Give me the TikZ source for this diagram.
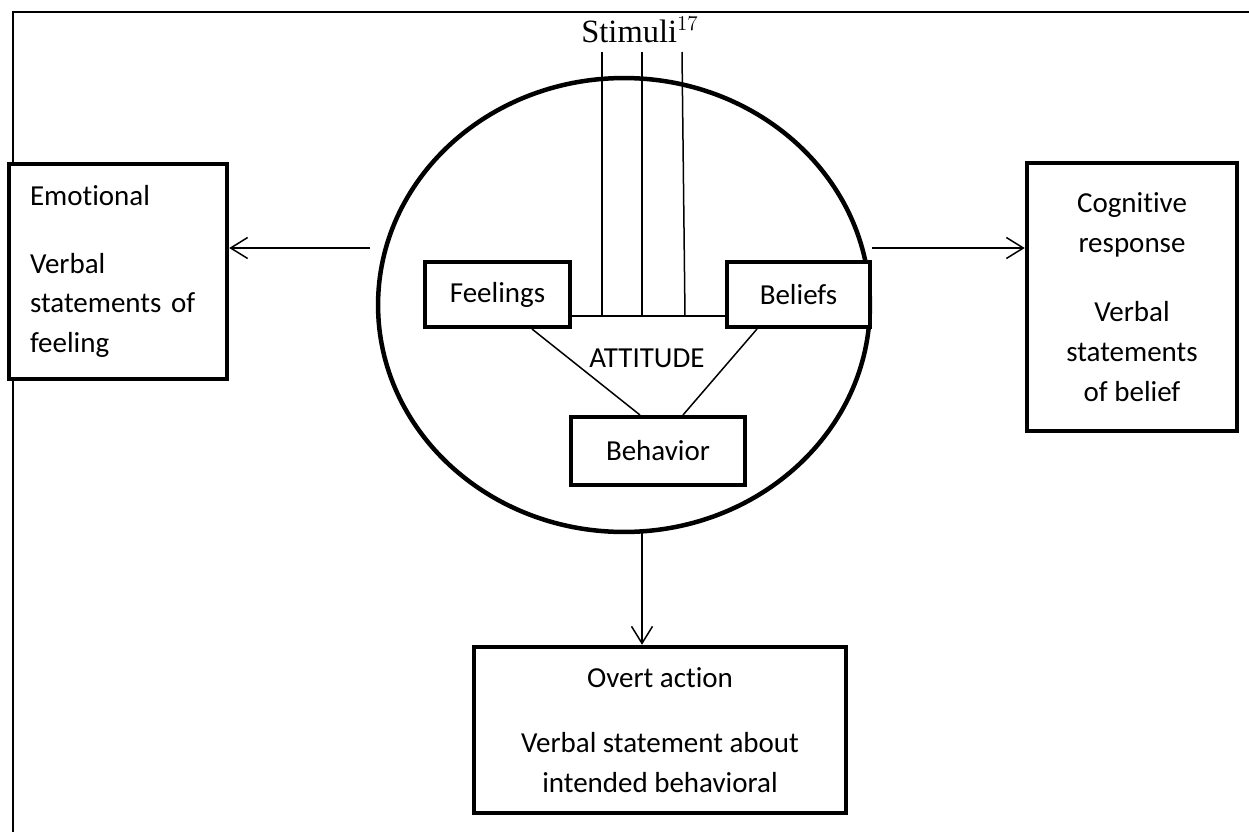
\documentclass[tikz,border=0pt]{standalone}
\usepackage{fontspec}
\setmainfont{Carlito}[Ligatures=NoCommon]
\newfontfamily\stimfont{Liberation Serif}
\usetikzlibrary{arrows.meta,shapes.geometric}
\begin{document}
\begin{tikzpicture}[x=0.02cm,y=-0.02cm,
  txt/.style={font=\fontsize{16.5}{22.7}\selectfont},
  bigbox/.style={draw, line width=0.09cm, fill=white, txt, inner sep=0pt},
  smallbox/.style={draw, line width=0.09cm, fill=white, txt, inner sep=0pt},
  thin/.style={line width=0.03cm},
  arr/.style={thin, -{Straight Barb[length=0.34cm,width=0.42cm]}},
  frame/.style={line width=0.05cm}
]
\useasboundingbox (0,0) rectangle (1249,832);
% frame
\coordinate (fl) at (13,832);
\coordinate (fc) at (13,12);
\coordinate (fr) at (1249,12);
\draw[frame] (fl) -- (fc) -- (fr);

% ellipse
\node[draw, line width=0.09cm, ellipse, minimum width=9.84cm, minimum height=9.08cm, inner sep=0pt] (ell) at (624,305) {};

% stimuli
\node[font=\stimfont\fontsize{18.5}{20}\selectfont, anchor=base] (stim) at (640,42) {Stimuli$^{17}$};

% inner boxes
\node[smallbox, minimum width=2.9cm, minimum height=1.3cm] (feel) at (497.5,294.5) {Feelings};
\node[smallbox, minimum width=2.86cm, minimum height=1.3cm] (bel) at (798.5,294.5) {Beliefs};
\node[smallbox, minimum width=3.48cm, minimum height=1.36cm] (beh) at (658,451) {Behavior};
\node[txt] (att) at (647,358) {ATTITUDE};

% stimuli lines
\coordinate (s1t) at (602,52);
\coordinate (s2t) at (642,52);
\coordinate (s3t) at (682,52);
\coordinate (s1b) at (602,316);
\coordinate (s2b) at (642,316);
\coordinate (s3b) at (685,316);
\draw[thin] (s1t) -- (s1b);
\draw[thin] (s2t) -- (s2b);
\draw[thin] (s3t) -- (s3b);
\draw[thin] (feel.east |- s1b) -- (bel.west |- s1b);

% triangle lines
\coordinate (fb) at (532,329);
\coordinate (bt1) at (640,415);
\coordinate (bb) at (757,329);
\coordinate (bt2) at (683,415);
\draw[thin] (fb) -- (bt1);
\draw[thin] (bb) -- (bt2);

% outer boxes
\node[bigbox, text width=3.52cm, inner xsep=0.42cm, align=left, minimum height=4.3cm] (emo) at (118,271.5)
  {Emotional\\[15.8pt]Verbal\\statements of\\feeling};
\node[bigbox, align=center, minimum width=4.2cm, minimum height=5.36cm] (cog) at (1132,297)
  {Cognitive\\response\\[17pt]Verbal\\statements\\of belief};
\node[bigbox, align=center, minimum width=7.44cm, minimum height=3.32cm] (ovt) at (660,730)
  {Overt action\\[14pt]Verbal statement about\\intended behavioral};

% arrows
\coordinate (la) at (370,248);
\coordinate (ra) at (872,248);
\coordinate (ba) at (642,532);
\draw[arr] (la) -- (la -| emo.east);
\draw[arr] (ra) -- (ra -| cog.west);
\draw[arr] (ba) -- (ba |- ovt.north);
\end{tikzpicture}
\end{document}
